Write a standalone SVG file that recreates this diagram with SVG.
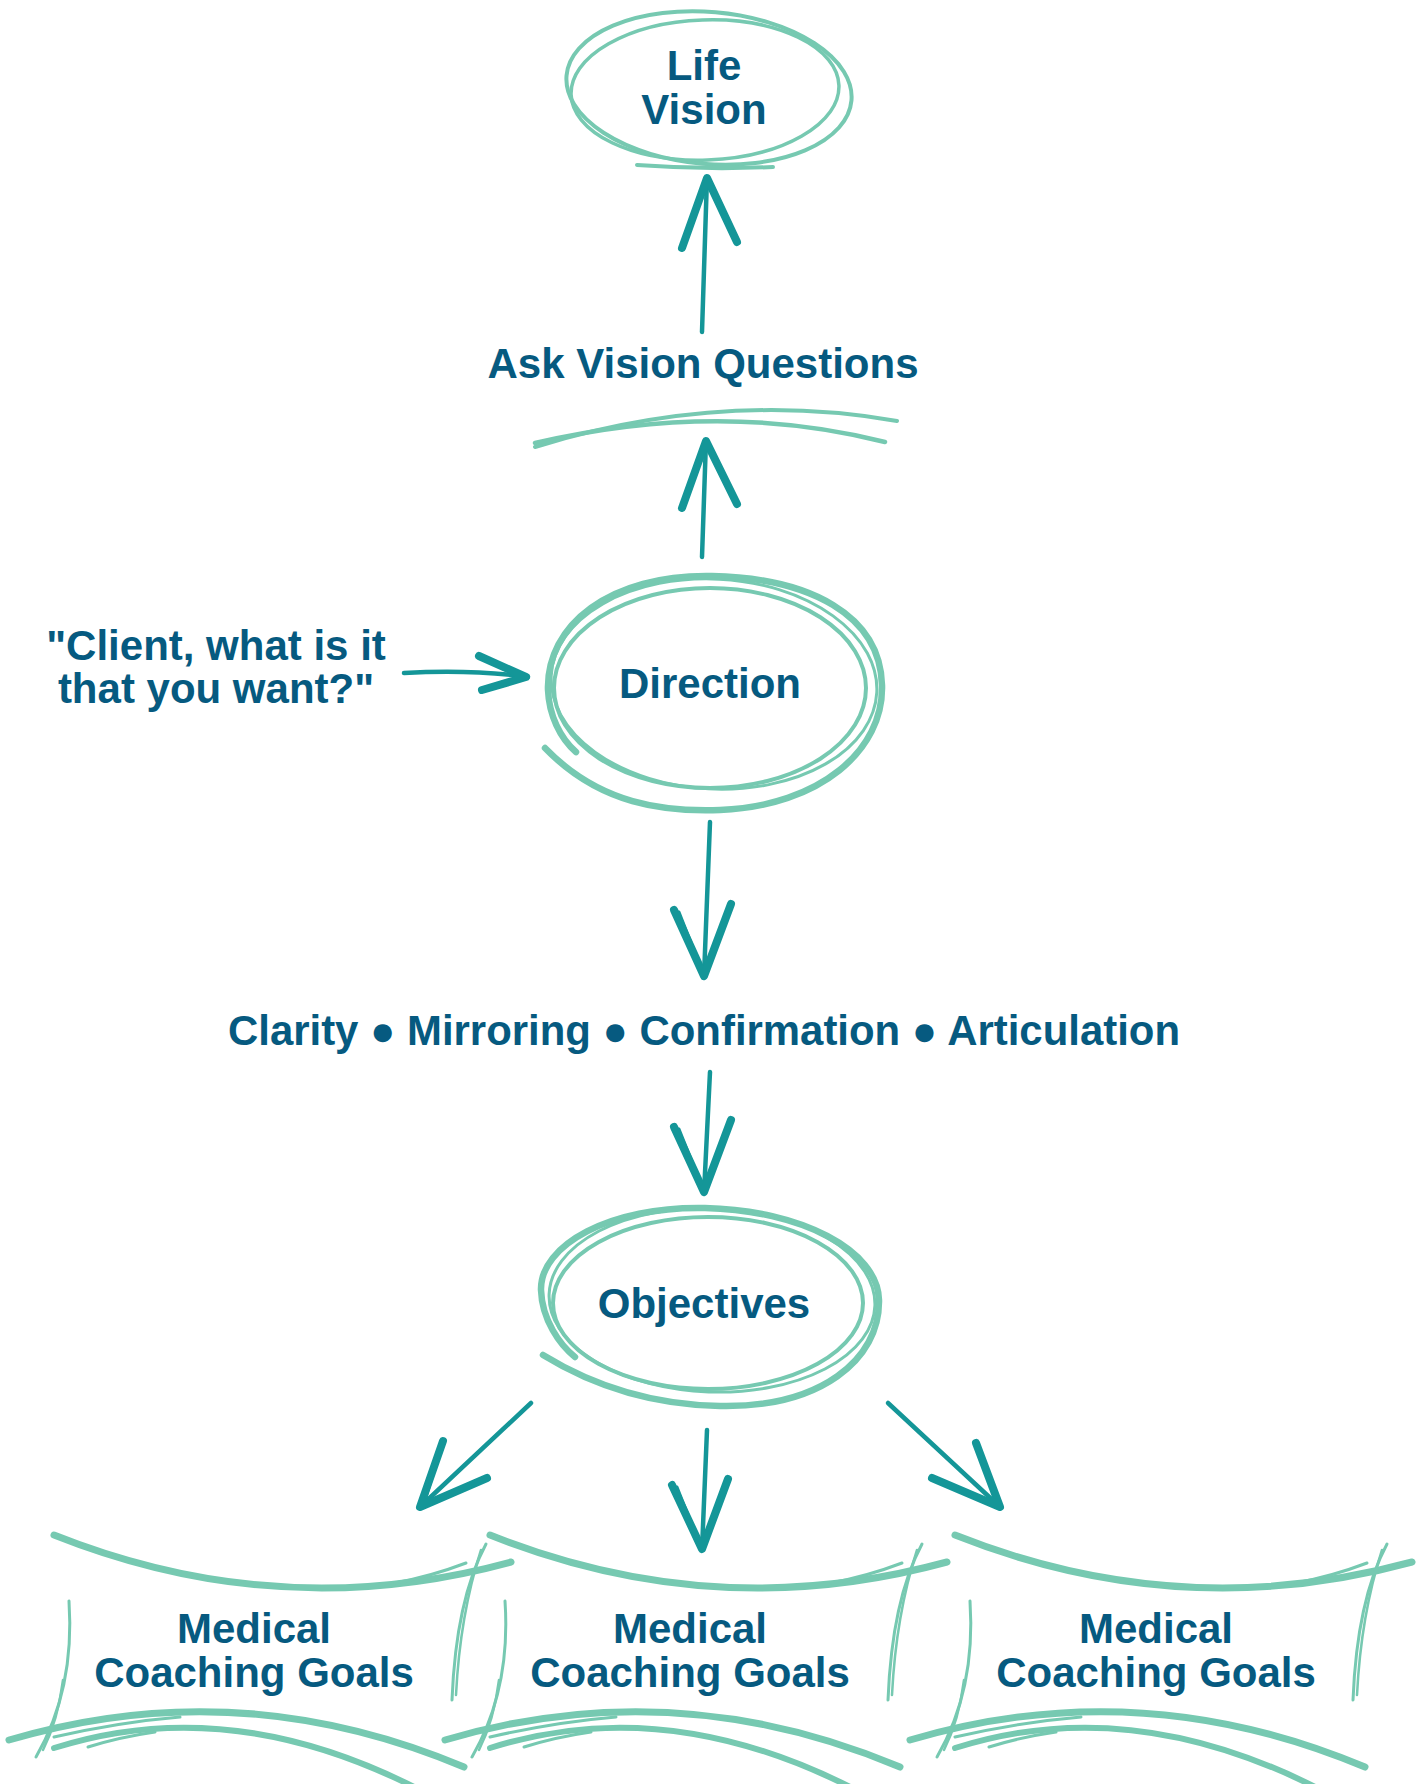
<svg xmlns="http://www.w3.org/2000/svg" xmlns:xlink="http://www.w3.org/1999/xlink" width="1424" height="1784" viewBox="0 0 1424 1784">
<style>
.t{font-family:"Liberation Sans",Arial,sans-serif;font-weight:bold;font-size:42px;fill:#065a80;text-anchor:middle}
.sk{fill:none;stroke:#76c9b1;stroke-linecap:round;stroke-linejoin:round}
.ln{fill:none;stroke:#149698;stroke-width:4.5;stroke-linecap:round}
.wg{fill:none;stroke:#149698;stroke-width:8;stroke-linecap:round;stroke-linejoin:round}
.wg2{fill:none;stroke:#149698;stroke-width:3;stroke-linecap:round}
</style>
<defs>
<g id="boxSketch">
<path class="sk" stroke-width="7" d="M54,1535 Q280,1625 511,1562"/>
<path class="sk" stroke-width="3" d="M395,1583 Q432,1576 466,1563"/>
<path class="sk" stroke-width="3" d="M486,1544 Q456,1600 452,1700"/>
<path class="sk" stroke-width="2.5" d="M481,1550 Q460,1615 456,1695"/>
<path class="sk" stroke-width="3" d="M69,1601 Q75,1690 36,1757"/>
<path class="sk" stroke-width="2.5" d="M63,1680 Q58,1720 43,1750"/>
<path class="sk" stroke-width="7" d="M9,1740 Q238,1672 464,1767"/>
<path class="sk" stroke-width="6" d="M54,1748 Q230,1692 420,1790"/>
<path class="sk" stroke-width="3" d="M54,1737 Q120,1722 180,1717"/>
<path class="sk" stroke-width="3" d="M88,1747 Q120,1737 155,1732"/>
</g>
</defs>
<rect width="1424" height="1784" fill="#ffffff"/>

<g id="life-vision">
<ellipse class="sk" stroke-width="4" cx="709" cy="88" rx="143" ry="76" transform="rotate(5 709 88)"/>
<ellipse class="sk" stroke-width="3.5" cx="705" cy="90" rx="134" ry="70" transform="rotate(-2 705 90)"/>
<path class="sk" stroke-width="4" d="M637,165 Q705,170 773,167"/>
<text class="t" x="704" y="80">Life</text>
<text class="t" x="704" y="124">Vision</text>
</g>

<g id="ask-vision-questions">
<text class="t" x="703" y="378">Ask Vision Questions</text>
<path class="sk" stroke-width="4" d="M535,447 Q720,390 897,421"/>
<path class="sk" stroke-width="4.5" d="M535,443 Q720,400 885,442"/>
</g>

<g id="client-quote">
<text class="t" x="216" y="660">"Client, what is it</text>
<text class="t" x="216" y="703">that you want?"</text>
</g>

<g id="direction">
<path class="sk" stroke-width="6.5" d="M545,748 C600,805 665,812 720,810 C820,806 884,750 882,685 C880,615 810,578 712,576 C610,574 546,625 548,690 C549,715 560,738 576,752"/>
<ellipse class="sk" stroke-width="4" cx="710" cy="688" rx="156" ry="100"/>
<ellipse class="sk" stroke-width="3" cx="714" cy="684" rx="163" ry="105" transform="rotate(3 714 684)"/>
<text class="t" x="710" y="698">Direction</text>
</g>

<g id="steps">
<text class="t" x="704" y="1045" textLength="952" lengthAdjust="spacingAndGlyphs">Clarity ● Mirroring ● Confirmation ● Articulation</text>
</g>

<g id="objectives">
<path class="sk" stroke-width="6.5" d="M543,1355 C600,1390 660,1405 720,1406 C820,1408 880,1360 879,1300 C878,1250 800,1210 705,1208 C610,1206 540,1245 541,1290 C542,1320 560,1345 575,1357"/>
<ellipse class="sk" stroke-width="4" cx="708" cy="1303" rx="155" ry="86"/>
<ellipse class="sk" stroke-width="3" cx="712" cy="1300" rx="163" ry="92" transform="rotate(2 712 1300)"/>
<text class="t" x="704" y="1318">Objectives</text>
</g>

<g id="goal-1">
<use xlink:href="#boxSketch"/>
<text class="t" x="254" y="1643">Medical</text>
<text class="t" x="254" y="1687">Coaching Goals</text>
</g>
<g id="goal-2">
<use xlink:href="#boxSketch" transform="translate(436 0)"/>
<text class="t" x="690" y="1643">Medical</text>
<text class="t" x="690" y="1687">Coaching Goals</text>
</g>
<g id="goal-3">
<use xlink:href="#boxSketch" transform="translate(901 0)"/>
<text class="t" x="1156" y="1643">Medical</text>
<text class="t" x="1156" y="1687">Coaching Goals</text>
</g>

<g id="connectors">
<path class="ln" d="M702,332 L707,177"/>
<path class="wg" d="M682,248 L707,178 L737,242"/>
<path class="wg2" d="M712,186 L733,235"/>

<path class="ln" d="M702,557 L706,440"/>
<path class="wg" d="M682,508 L706,441 L737,504"/>
<path class="wg2" d="M711,450 L733,497"/>

<path class="ln" d="M404,673 Q470,669 528,677"/>
<path class="wg" d="M479,656 L526,677 L482,690"/>

<path class="ln" d="M710,822 L704,977"/>
<path class="wg" d="M674,910 L704,976 L731,904"/>
<path class="wg2" d="M679,912 L701,968"/>

<path class="ln" d="M710,1072 L704,1193"/>
<path class="wg" d="M674,1127 L704,1192 L731,1120"/>
<path class="wg2" d="M679,1129 L701,1184"/>

<path class="ln" d="M531,1403 L420,1507"/>
<path class="wg" d="M443,1441 L420,1507 L487,1478"/>
<path class="wg2" d="M440,1452 L426,1497"/>

<path class="ln" d="M707,1430 L702,1550"/>
<path class="wg" d="M672,1485 L702,1549 L728,1479"/>
<path class="wg2" d="M677,1487 L698,1540"/>

<path class="ln" d="M888,1403 L1000,1507"/>
<path class="wg" d="M976,1443 L1000,1507 L932,1478"/>
<path class="wg2" d="M980,1452 L995,1497"/>
</g>
</svg>
